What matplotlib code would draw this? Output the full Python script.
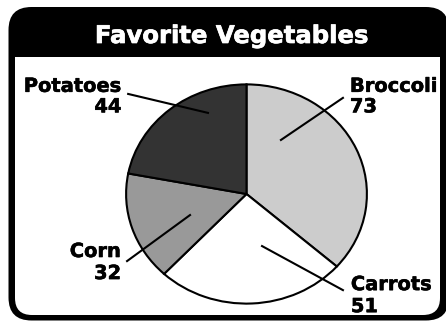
import matplotlib
matplotlib.use('Agg')
import matplotlib.pyplot as plt
import matplotlib.patheffects as pe
from matplotlib.patches import FancyBboxPatch, Rectangle

title = 'Favorite Vegetables'
vegetables = ['Broccoli', 'Carrots', 'Corn', 'Potatoes']
votes = [73, 51, 32, 44]
shades = ['#cccccc', '#ffffff', '#999999', '#333333']

plt.rcParams['font.family'] = ['DejaVu Sans']

fig = plt.figure(figsize=(4.46, 3.23), dpi=100)

# background frame, drawn in pixel units
bg = fig.add_axes([0, 0, 1, 1])
bg.set_xlim(0, 446)
bg.set_ylim(323, 0)
bg.axis('off')
bg.add_patch(FancyBboxPatch((8.5, 7), 440.5, 313.5, boxstyle='round,pad=0,rounding_size=23',
                            facecolor='black', edgecolor='none'))
bg.add_patch(FancyBboxPatch((15, 30), 425, 285, boxstyle='round,pad=0,rounding_size=17',
                            facecolor='white', edgecolor='none'))
bg.add_patch(Rectangle((14, 28), 427, 29, facecolor='black', edgecolor='none'))
bg.text(231, 43, title, color='white', fontsize=17.5, fontweight='bold',
        ha='center', va='baseline',
        path_effects=[pe.withStroke(linewidth=0.5, foreground='white')])

# pie, stretched into an ellipse
ax = fig.add_axes([96 / 446, -8 / 323, 301 / 446, 274 / 323])
ax.pie(votes, colors=shades, startangle=90, counterclock=False,
       wedgeprops=dict(edgecolor='black', linewidth=1.5))
ax.set_aspect('auto')
ax.set_xlim(-1.25, 1.25)
ax.set_ylim(-1.25, 1.25)
ax.axis('off')

# label placement (x, name baseline, value baseline, align) and leader lines
label_pos = {
    'Broccoli': (0.859, 0.932, 0.745, 'left'),
    'Carrots': (0.867, -0.877, -1.078, 'left'),
    'Corn': (-1.041, -0.575, -0.776, 'right'),
    'Potatoes': (-1.037, 0.932, 0.745, 'right'),
}
leaders = {
    'Broccoli': [(0.801, 0.877), (0.286, 0.493)],
    'Carrots': [(0.801, -0.877), (0.129, -0.475)],
    'Corn': [(-0.992, -0.612), (-0.469, -0.192)],
    'Potatoes': [(-0.983, 0.913), (-0.320, 0.740)],
}

bold = [pe.withStroke(linewidth=0.4, foreground='black')]
for name, val in zip(vegetables, votes):
    x, y1, y2, ha = label_pos[name]
    ax.text(x, y1, name, fontsize=14, fontweight='bold', ha=ha, va='baseline', path_effects=bold)
    ax.text(x, y2, str(val), fontsize=14, fontweight='bold', ha=ha, va='baseline', path_effects=bold)
    (x0, y0), (x1, y1) = leaders[name]
    ax.plot([x0, x1], [y0, y1], color='black', linewidth=1.5, clip_on=False)

fig.savefig('out.png', dpi=100)
